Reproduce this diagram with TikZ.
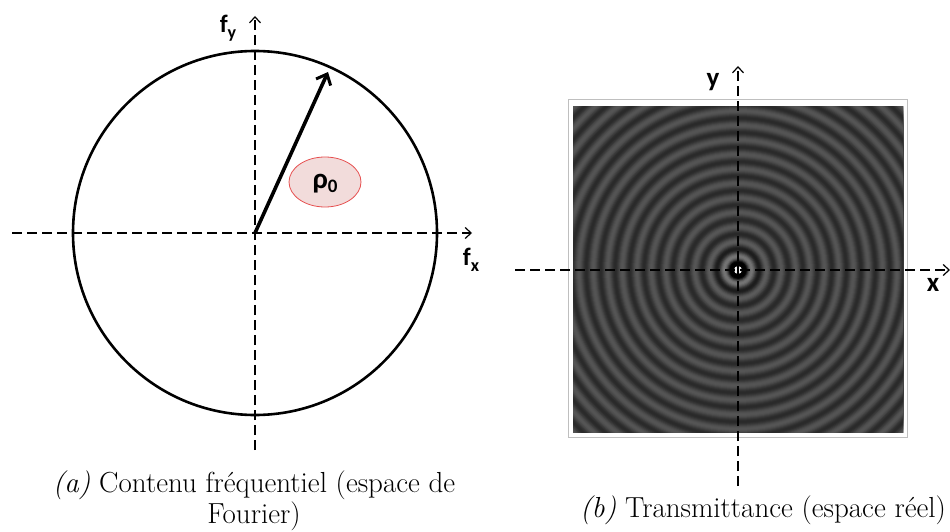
\documentclass[tikz,border=0pt]{standalone}
\usepackage{fontspec}
\newfontfamily\labfont{Carlito}
\usetikzlibrary{arrows.meta,shapes.geometric}
\begin{document}
\begin{tikzpicture}[x=1pt,y=-1pt,
  axis/.style={line width=1.3pt,dash pattern=on 10pt off 5pt,-{Straight Barb[length=6pt,width=11pt,line width=1.2pt]}},
  lab/.style={font=\labfont\bfseries\fontsize{25}{25}\selectfont,inner sep=0pt},
  captext/.style={font=\fontsize{29}{31}\selectfont,anchor=base,inner sep=0pt}]
\useasboundingbox (0,0) rectangle (950,532);
% ---------- left panel ----------
\coordinate (o1) at (255,233);
\coordinate (hx0) at (12,233);
\coordinate (hx1) at (472,233);
\coordinate (vy0) at (255,450);
\coordinate (vy1) at (255,16);
\coordinate (tip) at (328,72);
\draw[line width=2.6pt] (o1) circle (182);
\draw[axis] (hx0) -- (hx1);
\draw[axis] (vy0) -- (vy1);
\draw[line width=3.6pt,-{Straight Barb[length=9pt,width=16pt,line width=3pt]}] (o1) -- (tip);
\node[ellipse,draw={rgb,255:red,230;green,80;blue,80},line width=0.8pt,fill={rgb,255:red,242;green,220;blue,219},
      minimum width=72pt,minimum height=50pt,inner sep=0pt] (rho) at (325,182) {};
\node[lab,font=\labfont\bfseries\fontsize{29}{29}\selectfont] (rholab) at (325,184) {ρ\raisebox{-4pt}{\fontsize{19}{19}\selectfont 0}};
\node[lab] (fy) at (228,28) {f\raisebox{-6pt}{\fontsize{18}{18}\selectfont y}};
\node[lab] (fx) at (471,260) {f\raisebox{-6pt}{\fontsize{18}{18}\selectfont x}};
% ---------- right panel ----------
\coordinate (o2) at (738,270);
\draw[line width=1pt,draw=black!25] (568,100) rectangle (907,437);
\begin{scope}
  \clip (573,107) rectangle (903,432);
  \fill[black!75] (573,107) rectangle (903,432);
  \foreach \r in {236,235,...,1} {
    \pgfmathsetmacro\ang{mod(\r*24.8276,360)}
    \pgfmathsetmacro\amp{\r<60 ? 0.085+0.6*exp(-\r/9) : 0.085}
    \pgfmathsetmacro\g{\r<4.5 ? 0.95 : max(0,min(1,0.25+\amp*cos(\ang)))}
    \definecolor{rc}{gray}{\g}
    \fill[rc] (o2) circle (\r);
  }
\end{scope}
\coordinate (hx2) at (515,270);
\coordinate (hx3) at (950,270);
\coordinate (vy2) at (738,486);
\coordinate (vy3) at (738,66);
\draw[axis] (hx2) -- (hx3);
\draw[axis] (vy2) -- (vy3);
\node[lab,font=\labfont\bfseries\fontsize{27}{27}\selectfont] (ylab) at (713,82) {y};
\node[lab,font=\labfont\bfseries\fontsize{27}{27}\selectfont] (xlab) at (933,285) {x};
% ---------- captions ----------
\node[captext] (capa1) at (254,492) {\textit{(a)} Contenu fréquentiel (espace de};
\node[captext] (capa2) at (254,523) {Fourier)};
\node[captext] (capb) at (763,517) {\textit{(b)} Transmittance (espace réel)};
\end{tikzpicture}
\end{document}
